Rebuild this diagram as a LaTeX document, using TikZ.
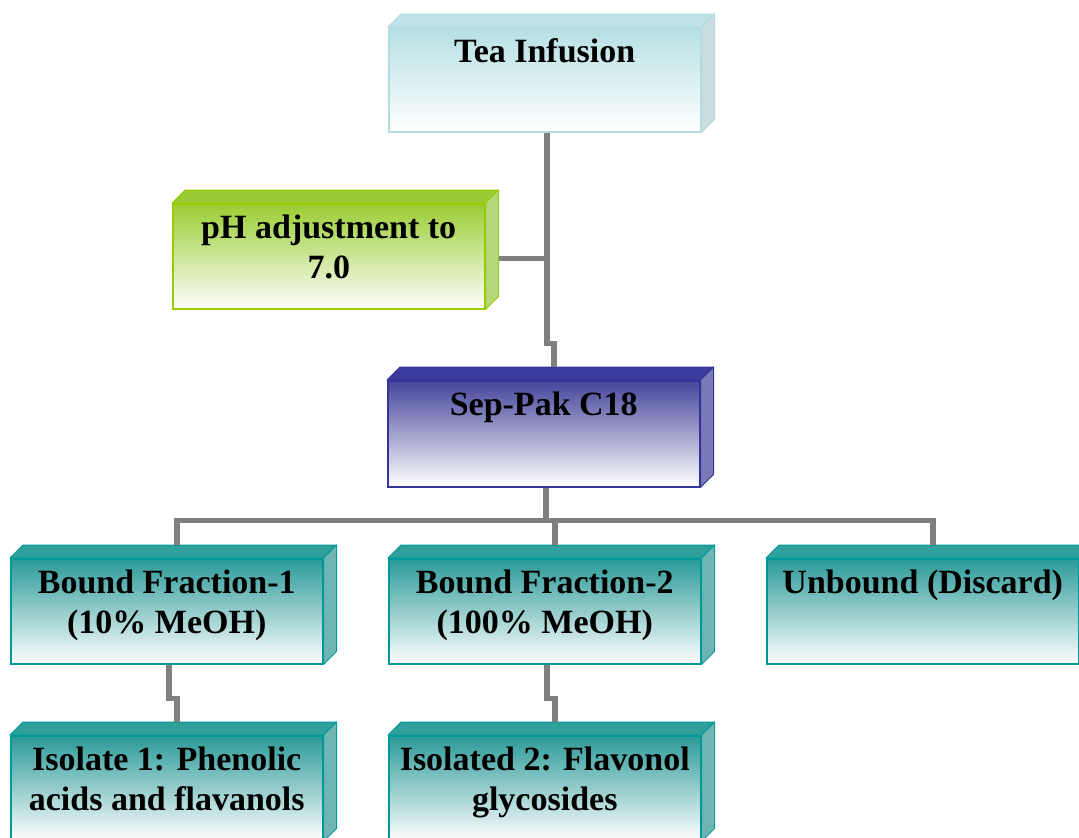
\documentclass[tikz,border=0pt]{standalone}
\usepackage{fontspec}
\setmainfont{Liberation Serif}
\definecolor{teaF}{HTML}{B6E0E4}\definecolor{teaB}{HTML}{B2DCE0}\definecolor{teaT}{HTML}{BFE3E6}\definecolor{teaS}{HTML}{C9DCDE}
\definecolor{phF}{HTML}{9ACD32}\definecolor{phB}{HTML}{99CC00}\definecolor{phT}{HTML}{99CC33}\definecolor{phS}{HTML}{B5D67A}
\definecolor{sepF}{HTML}{45459C}\definecolor{sepB}{HTML}{333399}\definecolor{sepT}{HTML}{3C3C9E}\definecolor{sepS}{HTML}{7A7AB8}
\definecolor{tlF}{HTML}{2A9A98}\definecolor{tlB}{HTML}{009999}\definecolor{tlT}{HTML}{2FA09C}\definecolor{tlS}{HTML}{6FB5B3}
\definecolor{connC}{HTML}{808080}
\newcommand\tdbox[5]{%
  \node[frontface, minimum height=#3pt, top color=#4F, middle color=#4F!38!white, bottom color=white, draw=#4B] (#1) at (#2) {};
  \filldraw[fill=#4T, draw=#4B, line width=1pt, line join=round] (#1.north west) -- ++(13,-13) -- ([shift={(13,-13)}]#1.north east) -- (#1.north east) -- cycle;
  \filldraw[fill=#4S, draw=#4B, line width=1pt, line join=round] (#1.north east) -- ++(13,-13) -- ([shift={(13,-13)}]#1.south east) -- (#1.south east) -- cycle;
  \node[btext] (#1-t) at ([yshift=-7pt]#1.north) {\strut #5};
  \coordinate (#1-top) at ([shift={(10,-13)}]#1.north);
  \coordinate (#1-out) at ([xshift=2pt]#1.south);
}
\begin{document}
\begin{tikzpicture}[x=1pt,y=-1pt,
  frontface/.style={rectangle, anchor=north west, minimum width=312pt, inner sep=0pt, line width=1.5pt},
  btext/.style={anchor=north, align=center, inner sep=0pt, font=\bfseries\fontsize{34}{40}\selectfont},
  conn/.style={draw=connC, line width=5.5pt, line join=miter}]
\useasboundingbox (0,0) rectangle (1079,838);
\clip (0,0) rectangle (1079,838);
\tdbox{tea}{388,27}{104}{tea}{Tea Infusion}
\tdbox{ph}{172,203}{105}{ph}{pH adjustment to\\7.0}
\tdbox{sep}{387,380}{106}{sep}{Sep-Pak C18}
\tdbox{b1}{10,558}{105}{tl}{Bound Fraction-1\\(10\% MeOH)}
\tdbox{b2}{388,558}{105}{tl}{Bound Fraction-2\\(100\% MeOH)}
\tdbox{ub}{766,558}{105}{tl}{Unbound (Discard)}
\tdbox{i1}{10,735}{105}{tl}{Isolate 1: Phenolic\\acids and flavanols}
\tdbox{i2}{388,735}{105}{tl}{Isolated 2: Flavonol\\glycosides}
\coordinate (ph-out) at ([xshift=13pt,yshift=-2pt]ph.east);
\draw[conn] (tea-out) -- ++(0,211) -| (sep-top);
\draw[conn] (ph-out) -- (ph-out -| tea-out);
\draw[conn] (sep-out) -- ++(0,33) coordinate (sj);
\draw[conn] (b1-top) |- (sj) -| (ub-top);
\draw[conn] (sj -| b2-top) -- (b2-top);
\draw[conn] (b1-out) -- ++(0,34) -| (i1-top);
\draw[conn] (b2-out) -- ++(0,34) -| (i2-top);
\end{tikzpicture}
\end{document}
